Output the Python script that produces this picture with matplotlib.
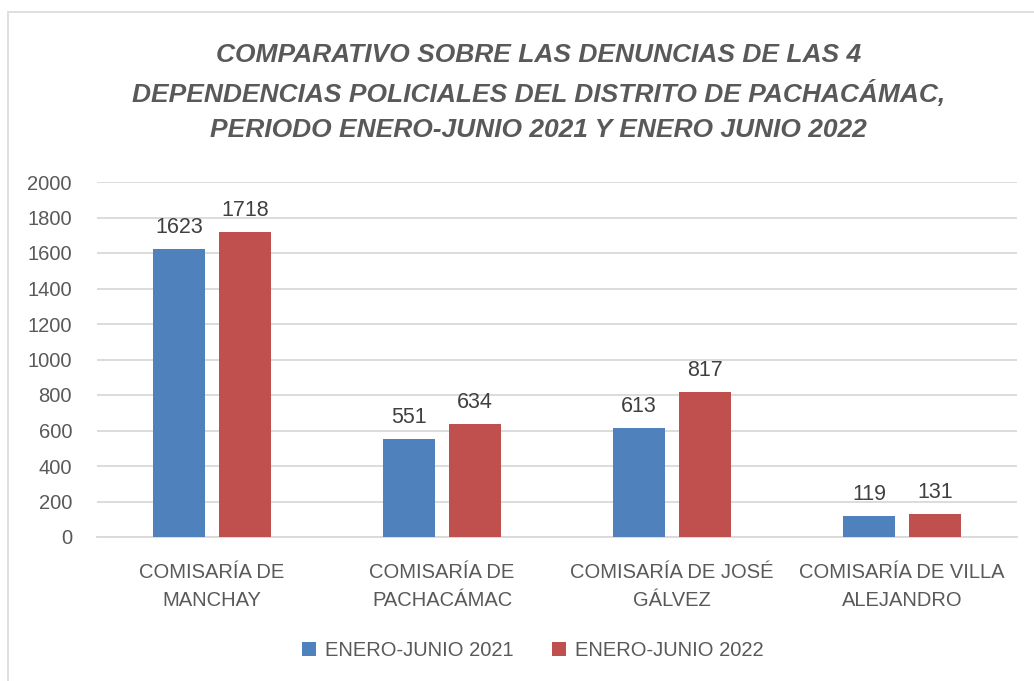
import matplotlib.pyplot as plt
import numpy as np
from matplotlib.patches import Rectangle

# data
categorias = ["COMISARÍA DE\nMANCHAY", "COMISARÍA DE\nPACHACÁMAC",
              "COMISARÍA DE JOSÉ\nGÁLVEZ", "COMISARÍA DE VILLA\nALEJANDRO"]
valores_2021 = [1623, 551, 613, 119]
valores_2022 = [1718, 634, 817, 131]
series = ["ENERO-JUNIO 2021", "ENERO-JUNIO 2022"]
titulo = ("COMPARATIVO SOBRE LAS DENUNCIAS DE LAS 4\n"
          "DEPENDENCIAS POLICIALES DEL DISTRITO DE PACHACÁMAC,\n"
          "PERIODO ENERO-JUNIO 2021 Y ENERO JUNIO 2022")

fuente = ['Liberation Sans', 'DejaVu Sans']
plt.rcParams['font.family'] = fuente
gris = '#595959'

fig = plt.figure(figsize=(10.34, 6.81), dpi=100)
fig.patches.append(Rectangle((8 / 1034, -0.1), 1.2, (669 + 0.1 * 681) / 681,
                             transform=fig.transFigure, fill=False,
                             edgecolor='#d9d9d9', linewidth=1.2))

ax = fig.add_axes([97 / 1034, (681 - 537) / 681, 920 / 1034, 355 / 681])
x = np.arange(len(categorias))
w = 0.226
b1 = ax.bar(x - 0.143, valores_2021, w, color='#4f81bd', label=series[0], zorder=3)
b2 = ax.bar(x + 0.143, valores_2022, w, color='#c0504d', label=series[1], zorder=3)
for bars in (b1, b2):
    ax.bar_label(bars, padding=8, fontsize=15.5, color='#404040')

ax.set_xlim(-0.5, 3.5)
ax.set_ylim(0, 2000)
ax.set_yticks(range(0, 2001, 200))
ax.set_xticks(x)
ax.set_xticklabels(categorias, fontsize=14.5, color=gris, linespacing=1.6)
for lab in ax.get_yticklabels():
    lab.set_fontsize(14.5)
    lab.set_color(gris)
ax.tick_params(length=0)
ax.tick_params(axis='y', pad=18)
ax.tick_params(axis='x', pad=19)
ax.grid(axis='y', color='#d9d9d9', linewidth=1.3, zorder=0)
for s in ['top', 'right', 'left']:
    ax.spines[s].set_visible(False)
ax.spines['bottom'].set_color('#d9d9d9')
ax.spines['bottom'].set_linewidth(1.3)

fig.text(0.521, 0.864, titulo, ha='center', va='center', fontsize=19,
         fontweight='bold', fontstyle='italic', color=gris, linespacing=1.58)

leg = fig.legend(loc='center', bbox_to_anchor=(0.515, 0.045), ncol=2, frameon=False,
                 handlelength=0.7, handleheight=0.7, columnspacing=1.9,
                 handletextpad=0.45, prop={'size': 14.5})
for t in leg.get_texts():
    t.set_color(gris)

fig.savefig('out.png', dpi=100, facecolor='white')
